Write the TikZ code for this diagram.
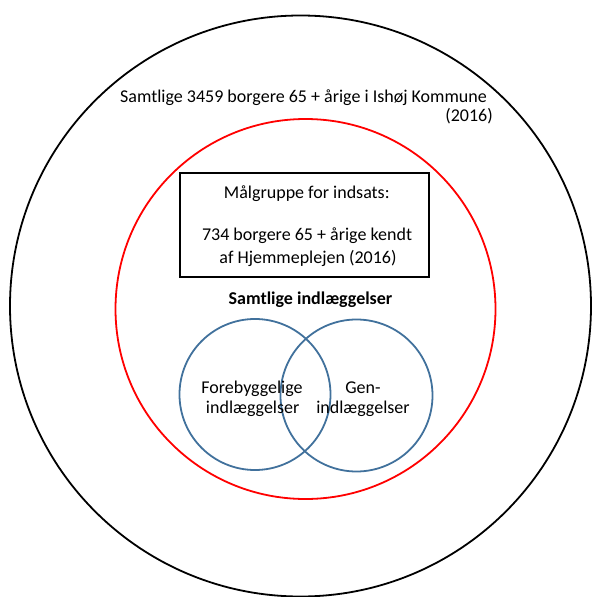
\documentclass[tikz,border=0pt]{standalone}
\usepackage{fontspec}
\setmainfont{Carlito}
\usetikzlibrary{positioning}

\definecolor{vennblue}{RGB}{65,113,156}
\tikzset{
  ring/.style={circle, draw, line width=1.8pt, inner sep=0pt},
  lbl/.style={font=\fontsize{18}{22}\selectfont, inner sep=0pt, anchor=base},
}

\begin{document}
\begin{tikzpicture}[x=1pt,y=-1pt]
  \useasboundingbox (0,0) rectangle (592,597);

  % populations
  \node [ring, minimum size=581pt] (all) at (300.5,306) {};
  \node [ring, draw=red, minimum size=380pt] (known) at (305.5,309) {};
  \node [lbl, anchor=base west] (allone) at (120,102) {Samtlige 3459 borgere 65 + årige i Ishøj Kommune};
  \node [lbl, anchor=base east] (alltwo) at (493,121) {(2016)};

  % target group box
  \node [draw, line width=2pt, inner sep=0pt, minimum width=249pt, minimum height=104pt] (goal) at (304.7,225) {};
  \node [lbl] (goalone) at (306.8,198) {Målgruppe for indsats:};
  \node [lbl] (goaltwo) at (307,240) {734 borgere 65 + årige kendt};
  \node [lbl] (goalthree) at (308,263) {af Hjemmeplejen (2016)};

  % admissions
  \node [lbl, font=\fontsize{18}{22}\selectfont\bfseries] (adm) at (310.5,304) {Samtlige indlæggelser};
  \node [ring, draw=vennblue, minimum size=151pt] (prev) at (255,394.5) {};
  \node [ring, draw=vennblue, minimum size=152pt] (readm) at (356.5,395.5) {};
  \node [lbl] (prevone) at (252,393) {Forebyggelige};
  \node [lbl] (prevtwo) at (252.7,413.7) {indlæggelser};
  \node [lbl] (readmone) at (363,393) {Gen-};
  \node [lbl] (readmtwo) at (363,413.7) {indlæggelser};
\end{tikzpicture}
\end{document}
